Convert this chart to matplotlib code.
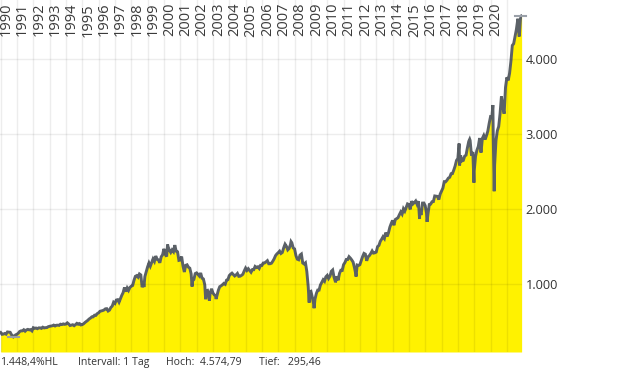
import numpy as np
import matplotlib
matplotlib.use("Agg")
import matplotlib.pyplot as plt

# Monthly closes (Jan..Dec), one list per year
closes = {
    1990: [329, 332, 340, 331, 361, 358, 356, 323, 306, 304, 322, 330],
    1991: [344, 367, 375, 375, 390, 371, 388, 395, 388, 392, 375, 417],
    1992: [409, 413, 404, 415, 415, 408, 424, 414, 418, 419, 431, 436],
    1993: [439, 443, 452, 440, 450, 451, 448, 464, 459, 468, 462, 466],
    1994: [482, 467, 446, 451, 457, 444, 458, 475, 463, 472, 454, 459],
    1995: [470, 487, 501, 515, 533, 545, 562, 562, 584, 582, 605, 616],
    1996: [636, 641, 646, 654, 669, 671, 640, 652, 687, 705, 757, 741],
    1997: [786, 791, 757, 801, 848, 885, 954, 899, 947, 915, 955, 970],
    1998: [980, 1049, 1102, 1112, 1091, 1134, 1121, 957, 1017, 1099, 1164, 1229],
    1999: [1280, 1238, 1286, 1335, 1302, 1373, 1329, 1320, 1283, 1363, 1389, 1469],
    2000: [1394, 1366, 1499, 1452, 1421, 1455, 1431, 1518, 1437, 1429, 1315, 1320],
    2001: [1366, 1240, 1160, 1249, 1256, 1224, 1211, 1134, 1041, 1060, 1139, 1148],
    2002: [1130, 1107, 1147, 1077, 1067, 990, 912, 916, 815, 886, 936, 880],
    2003: [856, 841, 848, 917, 964, 975, 990, 1008, 996, 1051, 1058, 1112],
    2004: [1131, 1145, 1126, 1107, 1121, 1141, 1102, 1104, 1115, 1130, 1174, 1212],
    2005: [1181, 1204, 1181, 1157, 1192, 1191, 1234, 1220, 1229, 1207, 1249, 1248],
    2006: [1280, 1281, 1295, 1311, 1270, 1270, 1277, 1304, 1336, 1378, 1401, 1418],
    2007: [1438, 1407, 1421, 1482, 1531, 1503, 1455, 1474, 1527, 1549, 1481, 1468],
    2008: [1379, 1331, 1323, 1386, 1400, 1280, 1267, 1283, 1166, 969, 896, 903],
    2009: [826, 735, 798, 873, 919, 919, 987, 1021, 1057, 1036, 1096, 1115],
    2010: [1074, 1104, 1169, 1187, 1089, 1031, 1102, 1049, 1141, 1183, 1181, 1258],
    2011: [1286, 1327, 1326, 1364, 1345, 1321, 1292, 1219, 1131, 1253, 1247, 1258],
    2012: [1312, 1366, 1408, 1398, 1310, 1362, 1379, 1407, 1441, 1412, 1416, 1426],
    2013: [1498, 1515, 1569, 1598, 1631, 1606, 1686, 1633, 1682, 1757, 1806, 1848],
    2014: [1783, 1859, 1872, 1884, 1924, 1960, 1931, 2003, 1972, 2018, 2068, 2059],
    2015: [1995, 2105, 2068, 2086, 2107, 2063, 2104, 1972, 1920, 2079, 2080, 2044],
    2016: [1940, 1932, 2060, 2065, 2097, 2099, 2174, 2171, 2168, 2126, 2199, 2239],
    2017: [2279, 2364, 2363, 2384, 2412, 2423, 2470, 2472, 2519, 2575, 2648, 2674],
    2018: [2824, 2714, 2641, 2648, 2705, 2718, 2816, 2902, 2914, 2712, 2760, 2507],
    2019: [2704, 2784, 2834, 2946, 2752, 2942, 2980, 2926, 2977, 3038, 3141, 3231],
    2020: [3226, 2954, 2585, 2912, 3044, 3100, 3271, 3500, 3363, 3270, 3622, 3756],
    2021: [3714, 3811, 3973, 4181, 4204, 4298, 4395, 4523, 4308, 4540],
}

# Intra-month highs / lows visible as spikes (decimal year, value)
spike_dates = [1990.0, 1990.78, 1998.77, 2000.22, 2001.72, 2002.55, 2002.78, 2003.19,
               2007.78, 2008.89, 2009.19, 2010.50, 2011.33, 2011.76, 2015.65, 2016.11,
               2018.07, 2018.10, 2018.72, 2018.98, 2020.14, 2020.22, 2021.67, 2021.76,
               2021.90]
spike_values = [353, 295.46, 959, 1527, 966, 797, 777, 800,
                1565, 752, 677, 1022, 1364, 1099, 1867, 1829,
                2873, 2581, 2930, 2351, 3386, 2237, 4537, 4300,
                4574.79]

years = np.arange(1990, 2022)
y_ticks = [1000, 2000, 3000, 4000]
y_labels = ["1.000", "2.000", "3.000", "4.000"]
footer = ["1.448,4%HL", "Intervall: 1 Tag", "Hoch:  4.574,79", "Tief:   295,46"]

# build the series
t, v = [], []
for yr, vals in closes.items():
    for m, c in enumerate(vals):
        t.append(yr + (m + 0.95) / 12)
        v.append(c)
t = np.array(t + spike_dates)
v = np.array(v + spike_values)
order = np.argsort(t)
t, v = t[order], v[order]

plt.rcParams["font.family"] = ["Open Sans", "DejaVu Sans"]

W, H = 620, 372
fig = plt.figure(figsize=(W / 100, H / 100), dpi=100)
ax = fig.add_axes([0, 20 / H, 521.7 / W, 352 / H])

px_per_year = 16.33
x0 = 1989.957
ax.set_xlim(x0, x0 + 521.7 / px_per_year)
ymin, ymax = 93.3, 4786.7
ax.set_ylim(ymin, ymax)

ax.fill_between(t, v, ymin, color="#fff200", lw=0, zorder=1)
ax.plot(t, v, color="#5b6167", lw=2.1, zorder=2, solid_joinstyle="miter")

# grid drawn above the fill
for yr in years:
    ax.axvline(yr, color="black", alpha=0.07, lw=1, zorder=3)
for yv in y_ticks:
    ax.axhline(yv, color="black", alpha=0.07, lw=1, zorder=3)

# high / low markers
lo_i = np.argmin(v)
hi_i = np.argmax(v)
ax.plot([t[lo_i] - 0.33, t[lo_i] + 0.35], [v[lo_i]] * 2, color="#9aa0a8", lw=1.5, zorder=4)
ax.plot([2021.49, 2022.17], [v[hi_i]] * 2, color="#9aa0a8", lw=1.5, zorder=4, clip_on=False)

# year labels along the top
for yr in years[:-1]:
    ax.annotate(str(yr), xy=(yr + 0.33, 1), xycoords=("data", "axes fraction"),
                xytext=(0, -3), textcoords="offset pixels", rotation=90,
                ha="center", va="top", fontsize=10.5, color="#3a3a3a", zorder=5)

ax.set_xticks([])
ax.yaxis.tick_right()
ax.set_yticks(y_ticks)
ax.set_yticklabels(y_labels)
ax.tick_params(axis="y", length=0, pad=3, labelsize=9.2, labelcolor="#333333")
for s in ax.spines.values():
    s.set_visible(False)

# footer line
for xp, txt in zip([0, 78, 166, 259], footer):
    fig.text(xp / W, 1 - 363 / H, txt, ha="left", va="center", fontsize=7.6, color="#333333")

fig.savefig("out.png", dpi=100)
